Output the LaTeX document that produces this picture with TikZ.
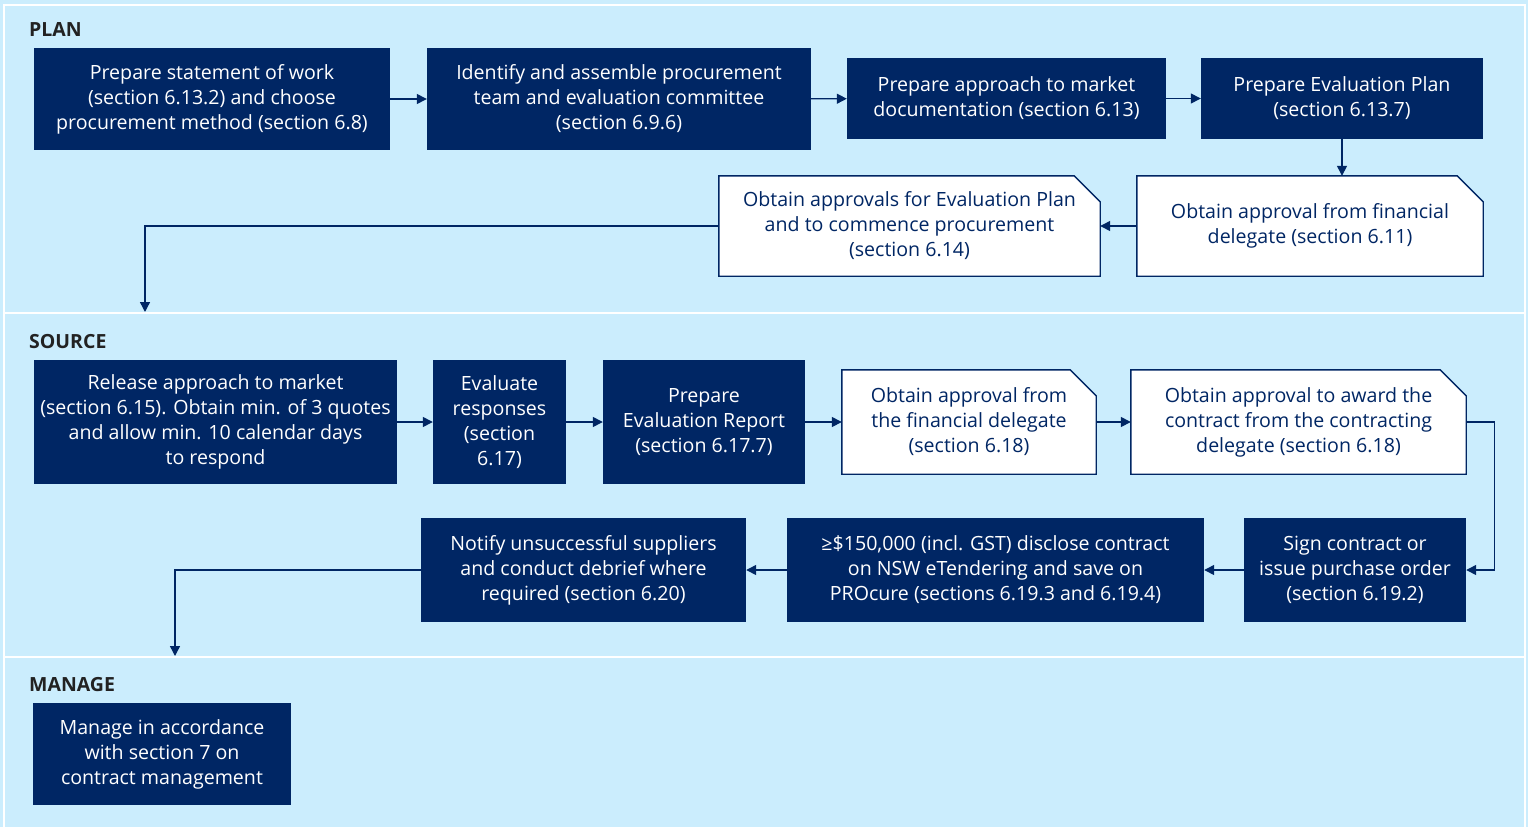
\documentclass[tikz,border=0pt]{standalone}
\usepackage{fontspec}
\setmainfont{Open Sans}
\usetikzlibrary{arrows.meta}

\definecolor{navy}{HTML}{002664}
\definecolor{paleblue}{HTML}{CBEDFD}
\definecolor{labelgrey}{HTML}{222222}

\pgfdeclarelayer{bands}
\pgfdeclarelayer{back}
\pgfsetlayers{bands,back,main}

\tikzset{
	boxtext/.style={align=center, inner sep=0pt, font=\fontsize{19.6}{25}\selectfont},
	stepbox/.style={boxtext, fill=navy, text=white},
	approvalbox/.style={boxtext, text=navy},
	docshape/.style={draw=navy, line width=1.4pt, fill=white, line join=miter},
	flow/.style={draw=navy, line width=1.4pt, -{Triangle[length=10pt,width=10pt]}},
	phase/.style={anchor=west, inner sep=0pt, text=labelgrey, font=\fontsize{19.5}{22}\selectfont\bfseries},
}

\begin{document}
\begin{tikzpicture}[x=1pt, y=-1pt]
		\def\fold{26pt}

		\useasboundingbox (0,0) rectangle (1528,827);

		\begin{pgfonlayer}{bands}
			\fill[paleblue] (0,0) rectangle (1528,827);
			\draw[white, line width=2pt] (4,827) -- (4,5) -- (1525,5) -- (1525,827);
			\draw[white, line width=2pt] (4,313) -- (1525,313);
			\draw[white, line width=2pt] (4,657) -- (1525,657);
		\end{pgfonlayer}

		\begin{scope}
			\node [phase] (plan) at (29,30) {PLAN};

			\node [stepbox, minimum width=356, minimum height=102] (sow) at (212,99)
				{Prepare statement of work\\(section 6.13.2) and choose\\procurement method (section 6.8)};
			\node [stepbox, minimum width=384, minimum height=102] (team) at (619,99)
				{Identify and assemble procurement\\team and evaluation committee\\(section 6.9.6)};
			\node [stepbox, minimum width=319, minimum height=81] (atmdoc) at (1006.5,98.5)
				{Prepare approach to market\\documentation (section 6.13)};
			\node [stepbox, minimum width=282, minimum height=81] (evalplan) at (1342,98.5)
				{Prepare Evaluation Plan\\(section 6.13.7)};

			\node [approvalbox, minimum width=381, minimum height=100] (planok) at (909.5,226)
				{Obtain approvals for Evaluation Plan\\and to commence procurement\\(section 6.14)};
			\node [approvalbox, minimum width=346, minimum height=100] (finok) at (1310,226)
				{Obtain approval from financial\\delegate (section 6.11)};

			\coordinate (sourcetop) at (145,312);
		\end{scope}

		\begin{scope}
			\node [phase] (source) at (29,342) {SOURCE};

			\node [stepbox, minimum width=363, minimum height=124] (release) at (215.5,422)
				{Release approach to market\\(section 6.15). Obtain min. of 3 quotes\\and allow min. 10 calendar days\\to respond};
			\node [stepbox, minimum width=133, minimum height=124] (evalresp) at (499.5,422)
				{Evaluate\\responses\\(section\\6.17)};
			\node [stepbox, minimum width=202, minimum height=124] (evalrep) at (704,422)
				{Prepare\\Evaluation Report\\(section 6.17.7)};
			\node [approvalbox, minimum width=254, minimum height=104] (repok) at (969,422)
				{Obtain approval from\\the financial delegate\\(section 6.18)};
			\node [approvalbox, minimum width=335, minimum height=104] (awardok) at (1298.5,422)
				{Obtain approval to award the\\contract from the contracting\\delegate (section 6.18)};

			\node [stepbox, minimum width=222, minimum height=104] (sign) at (1355,570)
				{Sign contract or\\issue purchase order\\(section 6.19.2)};
			\node [stepbox, minimum width=417, minimum height=104] (disclose) at (995.5,570)
				{≥\$150,000 (incl. GST) disclose contract\\on NSW eTendering and save on\\PROcure (sections 6.19.3 and 6.19.4)};
			\node [stepbox, minimum width=325, minimum height=104] (notify) at (583.5,570)
				{Notify unsuccessful suppliers\\and conduct debrief where\\required (section 6.20)};

			\coordinate (managetop) at (175,656);
		\end{scope}

		\begin{scope}
			\node [phase] (manage) at (29,685) {MANAGE};

			\node [stepbox, minimum width=258, minimum height=102] (contract) at (162,754)
				{Manage in accordance\\with section 7 on\\contract management};
		\end{scope}

		\begin{pgfonlayer}{back}
			\foreach \n in {planok, finok, repok, awardok}
				\path [docshape] (\n.south west) -- (\n.north west) -- ([xshift=-\fold]\n.north east)
					-- ([yshift=-\fold]\n.north east) -- (\n.south east) -- cycle;
		\end{pgfonlayer}

		\draw [flow] (sow) -- (team);
		\draw [flow] (team) -- (atmdoc);
		\draw [flow] (atmdoc) -- (evalplan);
		\draw [flow] (evalplan) -- (evalplan |- finok.north);
		\draw [flow] (finok) -- (planok);
		\draw [flow] (planok.west) -| (sourcetop);

		\draw [flow] (release) -- (evalresp);
		\draw [flow] (evalresp) -- (evalrep);
		\draw [flow] (evalrep) -- (repok);
		\draw [flow] (repok) -- (awardok);
		\draw [flow] (awardok.east) -- ++(28,0) |- (sign.east);
		\draw [flow] (sign) -- (disclose);
		\draw [flow] (disclose) -- (notify);
		\draw [flow] (notify.west) -| (managetop);
	\end{tikzpicture}
\end{document}
